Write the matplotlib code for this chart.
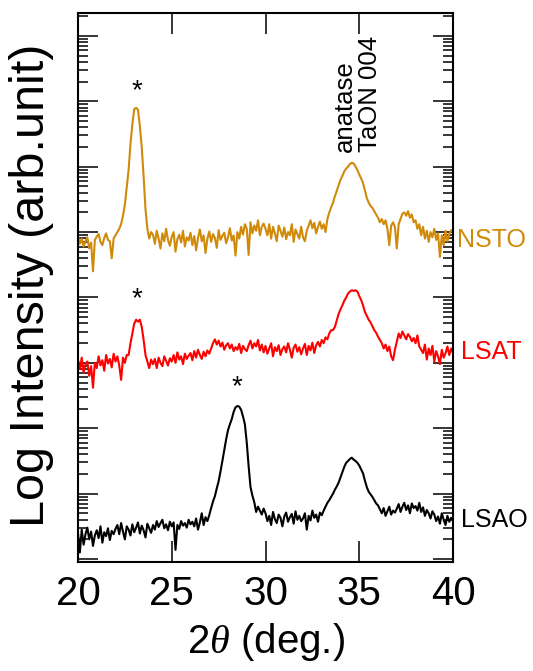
import numpy as np
import matplotlib
matplotlib.use("Agg")
import matplotlib.pyplot as plt
from matplotlib.ticker import LogLocator, NullFormatter, FixedLocator

plt.rcParams["font.family"] = ["Liberation Sans", "DejaVu Sans"]
plt.rcParams["mathtext.fontset"] = "custom"
plt.rcParams["mathtext.rm"] = "Liberation Sans"
plt.rcParams["mathtext.it"] = "Liberation Serif:italic"

# 2theta scan, 20-40 deg in 0.1 deg steps
two_theta = np.round(np.arange(20.0, 40.0001, 0.1), 1)

# log10 intensity (arb. unit), curves stacked by substrate
log_nsto = [
    4.95, 4.82, 4.90, 4.78, 4.86, 4.92, 4.75, 4.84, 4.40, 4.88,
    4.93, 4.97, 4.85, 4.80, 4.91, 4.98, 4.88, 4.86, 4.60, 4.90,
    4.95, 5.00, 5.05, 5.12, 5.25, 5.42, 5.68, 5.95, 6.35, 6.65,
    6.88, 6.90, 6.87, 6.62, 6.30, 5.85, 5.35, 5.05, 4.90, 5.00,
    4.96, 4.82, 5.02, 4.90, 4.75, 4.98, 4.86, 5.05, 4.88, 4.79,
    4.93, 5.00, 4.70, 4.89, 4.96, 4.84, 5.02, 4.78, 4.92, 4.87,
    4.99, 4.80, 4.94, 4.72, 4.91, 5.04, 4.86, 4.95, 4.68, 4.90,
    5.01, 4.85, 4.97, 4.91, 4.76, 5.03, 4.88, 4.94, 4.99, 4.83,
    4.92, 5.06, 4.87, 4.95, 4.64, 5.00, 4.90, 5.08, 4.96, 5.12,
    5.05, 4.65, 5.15, 4.98, 5.10, 5.02, 5.18, 4.95, 5.08, 5.13,
    5.05, 4.95, 5.12, 4.90, 5.08, 4.98, 4.86, 5.10, 5.02, 4.93,
    5.07, 4.89, 5.00, 4.95, 5.12, 4.85, 5.04, 4.97, 4.90, 5.08,
    4.92, 4.86, 5.02, 5.10, 5.18, 5.06, 5.14, 4.98, 5.08, 5.16,
    5.05, 5.12, 5.00, 5.20, 5.30, 5.38, 5.45, 5.55, 5.63, 5.72,
    5.80, 5.86, 5.93, 5.97, 6.00, 6.04, 6.06, 6.05, 6.00, 5.95,
    5.88, 5.82, 5.75, 5.64, 5.52, 5.45, 5.40, 5.37, 5.32, 5.27,
    5.22, 5.15, 5.20, 5.12, 5.18, 5.05, 4.80, 5.10, 5.15, 5.08,
    4.75, 5.12, 5.20, 5.28, 5.30, 5.25, 5.32, 5.22, 5.27, 5.15,
    5.18, 5.05, 5.12, 4.95, 5.08, 4.90, 5.02, 4.85, 5.00, 4.92,
    5.05, 4.88, 4.98, 4.62, 4.95, 4.80, 5.02, 4.86, 4.97, 5.03,
    5.00,
]

log_lsat = [
    3.05, 2.90, 3.08, 2.85, 2.98, 3.02, 2.80, 2.95, 2.62, 3.00,
    2.92, 3.10, 2.96, 3.04, 2.88, 3.12, 2.99, 3.06, 2.93, 3.14,
    3.02, 3.10, 2.96, 2.74, 3.08, 3.00, 3.12, 3.12, 3.30, 3.45,
    3.60, 3.66, 3.63, 3.66, 3.55, 3.35, 3.12, 3.02, 2.92, 3.05,
    2.98, 3.06, 2.92, 3.08, 3.00, 2.95, 3.10, 3.03, 2.96, 3.07,
    3.02, 3.12, 3.00, 3.16, 3.05, 3.10, 2.98, 3.14, 3.06, 3.11,
    3.15, 3.04, 3.18, 3.08, 3.20, 3.12, 3.06, 3.17, 3.10, 3.19,
    3.14, 3.22, 3.30, 3.36, 3.28, 3.34, 3.25, 3.31, 3.20, 3.27,
    3.30, 3.22, 3.28, 3.18, 3.24, 3.20, 3.29, 3.15, 3.26, 3.21,
    3.18, 3.27, 3.34, 3.22, 3.30, 3.25, 3.35, 3.19, 3.28, 3.16,
    3.26, 3.14, 3.22, 3.30, 3.10, 3.24, 3.18, 3.27, 3.12, 3.21,
    3.25, 3.16, 3.30, 3.20, 3.08, 3.23, 3.28, 3.17, 3.24, 3.13,
    3.22, 3.29, 3.12, 3.26, 3.19, 3.31, 3.15, 3.27, 3.32, 3.25,
    3.35, 3.30, 3.39, 3.36, 3.45, 3.50, 3.50, 3.55, 3.65, 3.75,
    3.82, 3.88, 3.95, 4.00, 4.06, 4.09, 4.11, 4.10, 4.11, 4.09,
    4.02, 3.96, 3.88, 3.78, 3.72, 3.66, 3.62, 3.56, 3.50, 3.46,
    3.40, 3.35, 3.30, 3.22, 3.28, 3.18, 3.25, 3.10, 3.04, 3.20,
    3.32, 3.45, 3.38, 3.48, 3.42, 3.36, 3.44, 3.40, 3.33, 3.38,
    3.30, 3.42, 3.25, 3.20, 3.15, 3.28, 3.05, 3.22, 3.12, 3.26,
    3.02, 3.18, 3.10, 2.98, 3.20, 3.08, 3.15, 3.25, 3.12, 3.22,
    3.15,
]

log_lsao = [
    0.40, 0.10, 0.45, 0.22, 0.38, 0.48, 0.30, 0.42, 0.20, 0.36,
    0.44, 0.32, 0.50, 0.25, 0.41, 0.35, 0.47, 0.29, 0.43, 0.38,
    0.46, 0.52, 0.38, 0.55, 0.42, 0.30, 0.50, 0.45, 0.36, 0.53,
    0.41, 0.48, 0.56, 0.39, 0.51, 0.44, 0.33, 0.54, 0.47, 0.40,
    0.52, 0.45, 0.58, 0.49, 0.55, 0.60, 0.47, 0.53, 0.44, 0.57,
    0.50, 0.56, 0.14, 0.52, 0.46, 0.58, 0.51, 0.55, 0.48, 0.60,
    0.53, 0.57, 0.50, 0.62, 0.45, 0.56, 0.70, 0.52, 0.64, 0.58,
    0.67, 0.78, 0.88, 0.96, 1.08, 1.19, 1.34, 1.50, 1.67, 1.83,
    1.97, 2.06, 2.14, 2.25, 2.32, 2.34, 2.33, 2.28, 2.18, 2.06,
    1.78, 1.42, 1.10, 0.97, 0.87, 0.72, 0.80, 0.74, 0.68, 0.77,
    0.70, 0.58, 0.66, 0.52, 0.72, 0.61, 0.55, 0.68, 0.63, 0.50,
    0.65, 0.71, 0.57, 0.64, 0.69, 0.54, 0.73, 0.60, 0.66, 0.58,
    0.62, 0.70, 0.45, 0.66, 0.59, 0.74, 0.63, 0.68, 0.57, 0.71,
    0.67, 0.74, 0.80, 0.86, 0.90, 0.95, 1.00, 1.06, 1.11, 1.17,
    1.25, 1.33, 1.41, 1.47, 1.50, 1.53, 1.55, 1.52, 1.50, 1.47,
    1.43, 1.37, 1.31, 1.20, 1.10, 1.03, 0.99, 0.95, 0.90, 0.85,
    0.82, 0.76, 0.70, 0.78, 0.66, 0.73, 0.80, 0.68, 0.74, 0.71,
    0.77, 0.84, 0.72, 0.80, 0.86, 0.75, 0.82, 0.70, 0.85, 0.78,
    0.81, 0.74, 0.86, 0.72, 0.79, 0.66, 0.75, 0.70, 0.62, 0.73,
    0.68, 0.58, 0.65, 0.54, 0.70, 0.60, 0.52, 0.66, 0.57, 0.63,
    0.60,
]

series_names = ["NSTO", "LSAT", "LSAO"]
series_colors = ["#D08A0A", "#FF0000", "#000000"]
label_x = [40.2, 40.45, 40.45]             # 2theta of the right-hand labels
label_levels = [4.88, 3.17, 0.60]          # log10 level of the right-hand labels

# substrate peak markers (2theta, log10 level)
star_x = [23.15, 23.15, 28.5]
star_level = [7.05, 3.86, 2.52]

x_ticks = [20, 25, 30, 35, 40]

fig = plt.figure(figsize=(5.33, 6.71), dpi=100)
ax = fig.add_axes([0.1463, 0.1624, 0.7037, 0.8182])

for logs, color in zip([log_nsto, log_lsat, log_lsao], series_colors):
    ax.plot(two_theta, 10 ** np.asarray(logs), color=color, lw=1.5)

ax.set_yscale("log")
ax.set_xlim(20, 40)
ax.set_ylim(10 ** -0.046, 10 ** 8.35)

ax.xaxis.set_major_locator(FixedLocator(x_ticks))
ax.yaxis.set_major_locator(LogLocator(base=10, numticks=20))
ax.yaxis.set_minor_locator(LogLocator(base=10, subs=np.arange(2, 10), numticks=20))
ax.yaxis.set_major_formatter(NullFormatter())
ax.yaxis.set_minor_formatter(NullFormatter())

ax.tick_params(axis="both", which="both", direction="in", top=True, right=True,
               color="black")
ax.tick_params(axis="x", which="major", length=15, width=1.1, labelsize=29, pad=9)
ax.tick_params(axis="y", which="major", length=14.5, width=1.1)
ax.tick_params(axis="y", which="minor", length=7.5, width=1.1)
for sp in ax.spines.values():
    sp.set_linewidth(1.5)

for name, color, lx, lv in zip(series_names, series_colors, label_x, label_levels):
    ax.text(lx, 10 ** lv, name, color=color, fontsize=18, ha="left",
            va="center", clip_on=False)

for sx, sl in zip(star_x, star_level):
    ax.text(sx, 10 ** sl, "*", fontsize=20, ha="center", va="baseline")

ax.text(34.9, 10 ** 6.22, "anatase\nTaON 004", rotation=90, fontsize=18.5,
        ha="center", va="bottom", multialignment="left", linespacing=1.1)

fig.text(32 / 533, 1 - 285 / 671, "Log Intensity (arb.unit)", rotation=90,
         fontsize=35, ha="center", va="center")
fig.text(266 / 533, 1 - 642 / 671, r"2$\theta$ (deg.)", fontsize=29,
         ha="center", va="center")

fig.savefig("out.png", dpi=100)
